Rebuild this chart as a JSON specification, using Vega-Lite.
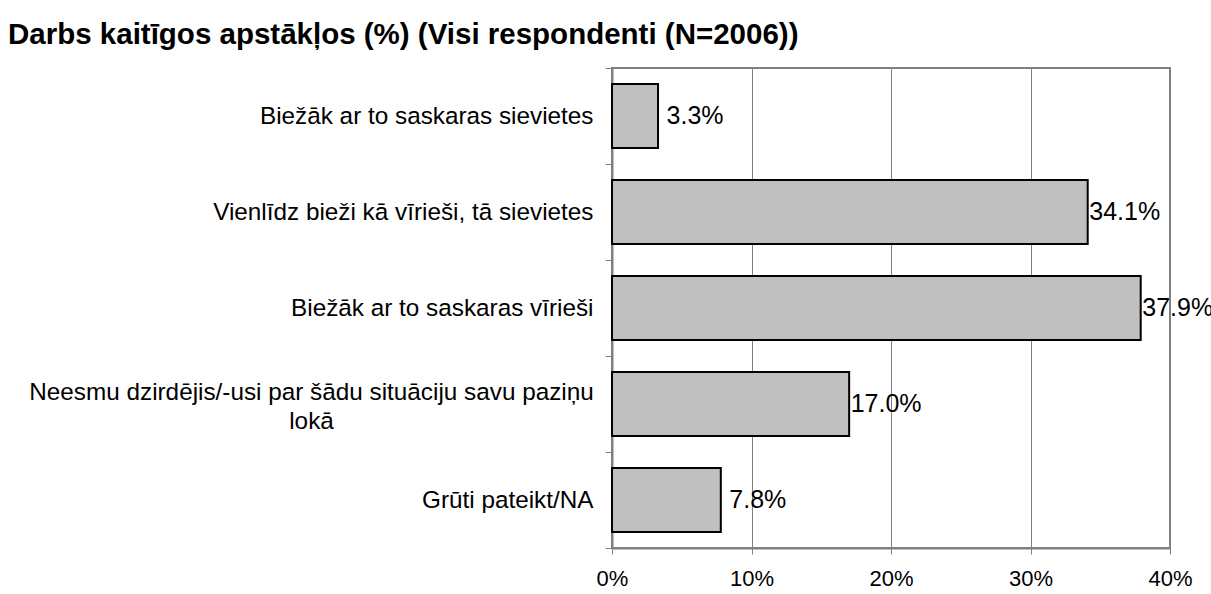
{
  "$schema": "https://vega.github.io/schema/vega-lite/v6.json",
  "width": 558,
  "height": 480,
  "autosize": {"type": "none"},
  "padding": {"left": 612, "top": 68, "right": 41, "bottom": 46},
  "background": "white",
  "title": {
    "text": "Darbs kaitīgos apstākļos (%) (Visi respondenti (N=2006))",
    "anchor": "start",
    "frame": "group",
    "dx": -604,
    "dy": 4,
    "offset": 10,
    "font": "Liberation Sans",
    "fontSize": 29.5,
    "fontWeight": "bold",
    "color": "black"
  },
  "data": {
    "values": [
      {"category": "Biežāk ar to saskaras sievietes", "pct": 3.3, "label": "3.3%"},
      {"category": "Vienlīdz bieži kā vīrieši, tā sievietes", "pct": 34.1, "label": "34.1%"},
      {"category": "Biežāk ar to saskaras vīrieši", "pct": 37.9, "label": "37.9%"},
      {"category": "Neesmu dzirdējis/-usi par šādu situāciju savu paziņu lokā", "pct": 17.0, "label": "17.0%"},
      {"category": "Grūti pateikt/NA", "pct": 7.8, "label": "7.8%"}
    ]
  },
  "encoding": {
    "y": {
      "field": "category",
      "type": "nominal",
      "sort": null,
      "scale": {"paddingInner": 0, "paddingOuter": 0},
      "axis": {
        "title": null,
        "grid": false,
        "tickBand": "extent",
        "tickSize": 7,
        "tickColor": "#808080",
        "domainColor": "#808080",
        "domainWidth": 2,
        "labelFont": "Liberation Sans",
        "labelFontSize": 24.3,
        "labelColor": "black",
        "labelLimit": 0,
        "labelLineHeight": 29,
        "labelPadding": {"condition": {"test": "indexof(datum.label, 'Neesmu') == 0", "value": 294}, "value": 12},
        "labelAlign": {"condition": {"test": "indexof(datum.label, 'Neesmu') == 0", "value": "center"}, "value": "right"},
        "labelOffset": {"condition": {"test": "indexof(datum.label, 'Neesmu') == 0", "value": -12}, "value": 0},
        "labelExpr": "indexof(datum.label, 'Neesmu') == 0 ? ['Neesmu dzirdējis/-usi par šādu situāciju savu paziņu', 'lokā'] : datum.label"
      }
    },
    "x": {
      "field": "pct",
      "type": "quantitative",
      "scale": {"domain": [0, 40], "nice": false},
      "axis": {
        "title": null,
        "values": [0, 10, 20, 30, 40],
        "labelExpr": "datum.value + '%'",
        "grid": true,
        "gridColor": "#808080",
        "gridWidth": 1,
        "tickSize": 6,
        "tickColor": "#808080",
        "domainColor": "#808080",
        "domainWidth": 2,
        "labelFont": "Liberation Sans",
        "labelFontSize": 22,
        "labelColor": "black",
        "labelPadding": 14,
        "labelFlush": false
      }
    }
  },
  "layer": [
    {"mark": {"type": "bar", "height": {"band": 0.667}, "fill": "#c0c0c0", "stroke": "black", "strokeWidth": 2}},
    {
      "mark": {"type": "text", "align": "center", "baseline": "middle", "dx": 37, "font": "Liberation Sans", "fontSize": 25, "fill": "black"},
      "encoding": {"text": {"field": "label"}}
    }
  ],
  "config": {"view": {"stroke": "#808080", "strokeWidth": 2}}
}
